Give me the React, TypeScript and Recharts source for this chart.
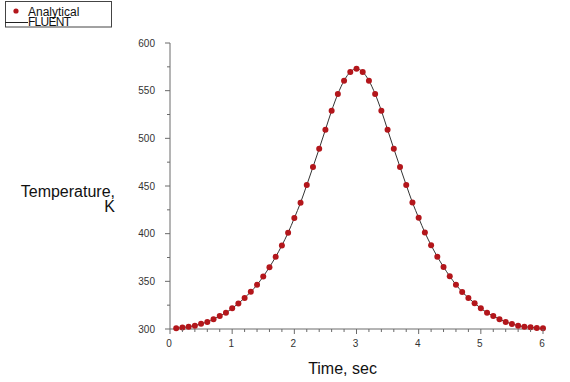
import React from 'react';
import { ComposedChart, Line, XAxis, YAxis, Legend } from 'recharts';

const times = [
  0.1, 0.2, 0.3, 0.4, 0.5, 0.6, 0.7, 0.8, 0.9, 1.0,
  1.1, 1.2, 1.3, 1.4, 1.5, 1.6, 1.7, 1.8, 1.9, 2.0,
  2.1, 2.2, 2.3, 2.4, 2.5, 2.6, 2.7, 2.8, 2.9, 3.0,
  3.1, 3.2, 3.3, 3.4, 3.5, 3.6, 3.7, 3.8, 3.9, 4.0,
  4.1, 4.2, 4.3, 4.4, 4.5, 4.6, 4.7, 4.8, 4.9, 5.0,
  5.1, 5.2, 5.3, 5.4, 5.5, 5.6, 5.7, 5.8, 5.9, 6.0,
];

const analytical = [
  300.8, 301.5, 302.4, 303.5, 305.4, 307.4, 310.2, 313.7, 317.1, 321.7,
  326.8, 332.6, 339.0, 346.3, 355.1, 364.9, 375.7, 387.7, 401.0, 416.4,
  432.5, 451.0, 469.9, 489.1, 509.0, 529.0, 546.5, 560.5, 569.6, 573.0,
  569.6, 560.5, 546.5, 529.0, 509.0, 489.1, 469.9, 451.0, 432.7, 416.6,
  401.2, 387.9, 375.9, 365.1, 355.3, 346.5, 338.9, 332.6, 327.0, 321.7,
  317.1, 313.7, 310.2, 307.4, 305.3, 303.5, 302.4, 301.8, 301.1, 300.7,
];

const fluent = [
  300.8, 301.5, 302.4, 303.5, 305.4, 307.4, 310.2, 313.7, 317.1, 321.7,
  326.8, 332.6, 339.0, 346.3, 355.1, 364.9, 375.7, 387.7, 401.0, 416.4,
  432.5, 451.0, 469.9, 489.1, 509.0, 529.0, 546.5, 560.5, 569.6, 573.0,
  569.6, 560.5, 546.5, 529.0, 509.0, 489.1, 469.9, 451.0, 432.7, 416.6,
  401.2, 387.9, 375.9, 365.1, 355.3, 346.5, 338.9, 332.6, 327.0, 321.7,
  317.1, 313.7, 310.2, 307.4, 305.3, 303.5, 302.4, 301.8, 301.1, 300.7,
];

const xTicks = [0, 0.2, 0.4, 0.6, 0.8, 1, 1.2, 1.4, 1.6, 1.8, 2, 2.2, 2.4, 2.6, 2.8, 3, 3.2, 3.4, 3.6, 3.8, 4, 4.2, 4.4, 4.6, 4.8, 5, 5.2, 5.4, 5.6, 5.8, 6];
const yTicks = [300, 325, 350, 375, 400, 425, 450, 475, 500, 525, 550, 575, 600];

const data = times.map((t, i) => ({ t, analytical: analytical[i], fluent: fluent[i] }));

const FONT = '"Liberation Sans", Arial, sans-serif';
const AXIS = '#6a6a6a';
const RED = '#b3161b';

const isInt = (v: number) => Math.abs(v - Math.round(v)) < 1e-6;
const isMajorY = (v: number) => Math.abs(v % 50) < 1e-6;

const XTick = (props: any) => {
  const { x, y, payload } = props;
  const major = isInt(payload.value);
  return (
    <g>
      <line x1={x} x2={x} y1={y} y2={y + (major ? 5 : 3)} stroke={AXIS} strokeWidth={1} />
      {major && (
        <text x={x - 1} y={y + 17.5} textAnchor="middle" fontSize={10} fill="#333" fontFamily={FONT}>
          {Math.round(payload.value)}
        </text>
      )}
    </g>
  );
};

const YTick = (props: any) => {
  const { x, y, payload } = props;
  const major = isMajorY(payload.value);
  return (
    <g>
      <line x1={x - (major ? 5 : 3)} x2={x} y1={y} y2={y} stroke={AXIS} strokeWidth={1} />
      {major && (
        <text x={x - 15} y={y + 3.5} textAnchor="end" fontSize={10} fill="#333" fontFamily={FONT}>
          {payload.value}
        </text>
      )}
    </g>
  );
};

const LegendBox = () => (
  <svg width={114} height={29} style={{ display: 'block' }}>
    <rect x={5.5} y={1.5} width={106} height={25.5} fill="#fff" stroke="#444" strokeWidth={1} />
    <circle cx={16} cy={11} r={2.6} fill={RED} />
    <text x={28} y={16} fontSize={12} fill="#111" fontFamily={FONT}>Analytical</text>
    <line x1={5} x2={28} y1={22.5} y2={22.5} stroke="#222" strokeWidth={1} />
    <text x={28} y={26} fontSize={12} fill="#111" fontFamily={FONT} textLength={43}>FLUENT</text>
  </svg>
);

export default function App() {
  return (
    <div style={{ position: 'absolute', left: 0, top: 0, width: 570, height: 382, background: '#fff' }}>
      <ComposedChart
        width={570}
        height={382}
        data={data}
        margin={{ top: 43, right: 27, left: 110, bottom: 0 }}
      >
        <XAxis
          dataKey="t"
          type="number"
          domain={[0, 6]}
          ticks={xTicks}
          interval={0}
          tickSize={0}
          tickMargin={0}
          tick={<XTick />}
          height={53}
          axisLine={{ stroke: AXIS }}
          tickLine={false}
          label={{
            content: (p: any) => {
              const vb = p.viewBox;
              return (
                <text x={vb.x + vb.width / 2 - 14} y={374} textAnchor="middle" fontSize={16} fill="#111" fontFamily={FONT}>
                  Time, sec
                </text>
              );
            },
          }}
        />
        <YAxis
          type="number"
          domain={[300, 600]}
          ticks={yTicks}
          interval={0}
          tickSize={0}
          tickMargin={0}
          tick={<YTick />}
          width={60}
          axisLine={{ stroke: AXIS }}
          tickLine={false}
          label={{
            content: () => (
              <text textAnchor="end" fontSize={16} fill="#111" fontFamily={FONT}>
                <tspan x={115} y={197}>Temperature,</tspan>
                <tspan x={115} y={212}>K</tspan>
              </text>
            ),
          }}
        />
        <Legend
          layout="vertical"
          align="center"
          verticalAlign="middle"
          wrapperStyle={{ left: 0, top: 0, width: 114, height: 29 }}
          content={() => <LegendBox />}
        />
        <Line
          name="FLUENT"
          dataKey="fluent"
          type="monotone"
          stroke="#333"
          strokeWidth={1}
          dot={false}
          activeDot={false}
          isAnimationActive={false}
        />
        <Line
          name="Analytical"
          dataKey="analytical"
          stroke="none"
          dot={{ r: 3, fill: RED, stroke: 'none' }}
          activeDot={false}
          isAnimationActive={false}
        />
      </ComposedChart>
    </div>
  );
}
